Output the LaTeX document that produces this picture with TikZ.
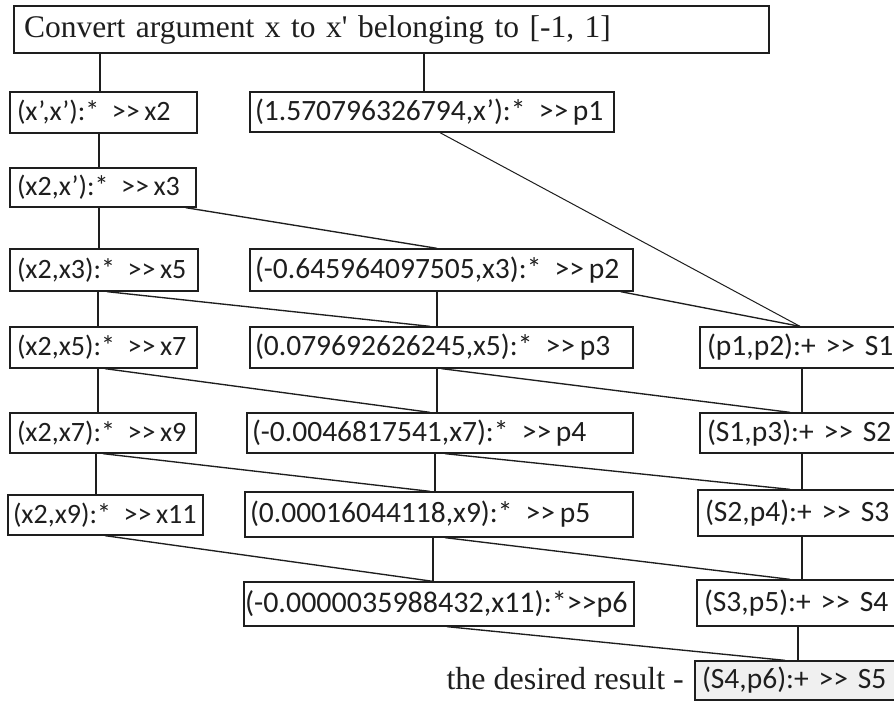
\documentclass[tikz,border=0pt]{standalone}
\usepackage{fontspec}
\setmainfont{Liberation Serif}
\newfontfamily\tnrplain{Liberation Serif}[Ligatures=TeXOff]
\newfontfamily\calib{Carlito}
\definecolor{ink}{HTML}{1E1E1E}
\definecolor{resfill}{HTML}{F0F0F0}
\newcommand\opa{\hspace{0.45em}}
\newcommand\opb{\hspace{0.16em}}
\tikzset{
  bx/.style={draw=ink, line width=1.3pt, rectangle, inner ysep=0pt, align=left,
    text=ink, font=\calib\fontsize{29.5}{36}\selectfont},
  lft/.style={font=\calib\fontsize{28}{36}\selectfont},
  ln/.style={draw=ink, line width=1.35pt},
}
\begin{document}
\begin{tikzpicture}[x=1pt,y=-1pt]
\clip (0,0) rectangle (894,702);
\fill[white] (0,0) rectangle (894,702);
% top
\node[bx, inner xsep=10pt, text width=735pt, minimum height=47pt,
  font=\tnrplain\fontsize{31.5}{38}\selectfont] (top) at (391.5,29.5)
  {\mbox{Convert argument x to x' belonging to [-1, 1]}};
% left column
\node[bx, lft, inner xsep=7pt, text width=173pt, minimum height=41pt] (x2) at (103.5,112.5) {\mbox{(x’,x’):*\opa>>\opb x2}};
\node[bx, lft, inner xsep=7pt, text width=172pt, minimum height=39pt] (x3) at (103,187.5) {\mbox{(x2,x’):*\opa>>\opb x3}};
\node[bx, lft, inner xsep=7pt, text width=174pt, minimum height=42pt] (x5) at (104,270) {\mbox{(x2,x3):*\opa>>\opb x5}};
\node[bx, lft, inner xsep=7pt, text width=173pt, minimum height=41pt] (x7) at (103.5,347.5) {\mbox{(x2,x5):*\opa>>\opb x7}};
\node[bx, lft, inner xsep=7pt, text width=172pt, minimum height=40pt] (x9) at (103,433) {\mbox{(x2,x7):*\opa>>\opb x9}};
\node[bx, lft, inner xsep=5pt, text width=185pt, minimum height=40pt] (x11) at (105.5,515) {\mbox{(x2,x9):*\opa>>\opb x11}};
% middle column
\node[bx, inner xsep=5pt, text width=354pt, minimum height=40pt] (p1) at (432,112) {\mbox{(1.570796326794,x’):*\opa>>\opb p1}};
\node[bx, inner xsep=5pt, text width=373pt, minimum height=42pt] (p2) at (441.5,270) {\mbox{(-0.645964097505,x3):*\opa>>\opb p2}};
\node[bx, inner xsep=5pt, text width=373pt, minimum height=41pt] (p3) at (441.5,347.5) {\mbox{(0.079692626245,x5):*\opa>>\opb p3}};
\node[bx, inner xsep=5pt, text width=376pt, minimum height=40pt] (p4) at (440,433) {\mbox{(-0.0046817541,x7):*\opa>>\opb p4}};
\node[bx, inner xsep=5pt, text width=378pt, minimum height=45pt] (p5) at (439,514.5) {\mbox{(0.00016044118,x9):*\opa>>\opb p5}};
\node[bx, inner xsep=1pt, text width=388pt, minimum height=44pt, font=\calib\fontsize{30}{36}\selectfont] (p6) at (439,604) {\mbox{(-0.0000035988432,x11):*>>p6}};
% right column
\node[bx, inner xsep=7pt, text width=190pt, minimum height=41pt] (S1) at (802,347.5) {\mbox{(p1,p2):+ >> S1}};
\node[bx, inner xsep=7pt, text width=190pt, minimum height=40pt] (S2) at (802,433) {\mbox{(S1,p3):+ >> S2}};
\node[bx, inner xsep=7pt, text width=192pt, minimum height=46pt] (S3) at (801,513) {\mbox{(S2,p4):+ >> S3}};
\node[bx, inner xsep=7pt, text width=193pt, minimum height=46pt] (S4) at (800.5,603) {\mbox{(S3,p5):+ >> S4}};
\node[bx, fill=resfill, inner xsep=7pt, text width=195pt, minimum height=39pt] (S5) at (799.5,680.5) {\mbox{(S4,p6):+ >> S5}};
\node[anchor=base east, inner sep=0pt, text=ink, font=\fontsize{32}{38}\selectfont] (res) at (684,689) {the desired result -};
% vertical connectors
\draw[ln] ([xshift=-3.5pt]x2.north |- top.south) -- ([xshift=-3.5pt]x2.north);
\draw[ln] ([xshift=-8pt]p1.north |- top.south) -- ([xshift=-8pt]p1.north);
\draw[ln] ([xshift=-4.5pt]x2.south) -- ([xshift=-4pt]x3.north);
\draw[ln] ([xshift=-4pt]x3.south) -- ([xshift=-5pt]x5.north);
\draw[ln] ([xshift=-6pt]x5.south) -- ([xshift=-5.5pt]x7.north);
\draw[ln] ([xshift=-5.5pt]x7.south) -- ([xshift=-5pt]x9.north);
\draw[ln] ([xshift=-7pt]x9.south) -- ([xshift=-9.5pt]x11.north);
\draw[ln] ([xshift=-4.5pt]p2.south) -- ([xshift=-4.5pt]p3.north);
\draw[ln] ([xshift=-4.5pt]p3.south) -- ([xshift=-3pt]p4.north);
\draw[ln] ([xshift=-5pt]p4.south) -- ([xshift=-4pt]p5.north);
\draw[ln] ([xshift=-6pt]p5.south) -- ([xshift=-6pt]p6.north);
\draw[ln] (S1.south) -- ([xshift=0pt]S2.north);
\draw[ln] (S2.south) -- ([xshift=1pt]S3.north);
\draw[ln] ([xshift=1pt]S3.south) -- ([xshift=1.5pt]S4.north);
\draw[ln] ([xshift=-2.5pt]S4.south) -- ([xshift=-1.5pt]S5.north);
% slanted connectors
\draw[ln] ([xshift=-11pt]x3.south east) -- ([xshift=-4.5pt]p2.north);
\draw[ln, line width=1pt] ([xshift=8pt]p1.south) -- ([xshift=-2pt]S1.north);
\draw[ln] ([xshift=-13pt]p2.south east) -- ([xshift=-2pt]S1.north);
\draw[ln] ([xshift=3pt]x5.south) -- ([xshift=-11.5pt]p3.north);
\draw[ln] ([xshift=1.5pt]x7.south) -- ([xshift=-10pt]p4.north);
\draw[ln] ([xshift=0pt]p3.south) -- ([xshift=-12pt]S2.north);
\draw[ln] ([xshift=0pt]x9.south) -- ([xshift=-9pt]p5.north);
\draw[ln] ([xshift=5pt]p4.south) -- ([xshift=-11pt]S3.north);
\draw[ln] ([xshift=-0.5pt]x11.south) -- ([xshift=-6pt]p6.north);
\draw[ln] ([xshift=6pt]p5.south) -- ([xshift=-10.5pt]S4.north);
\draw[ln] ([xshift=8pt]p6.south) -- ([xshift=-14.5pt]S5.north);
\end{tikzpicture}
\end{document}
